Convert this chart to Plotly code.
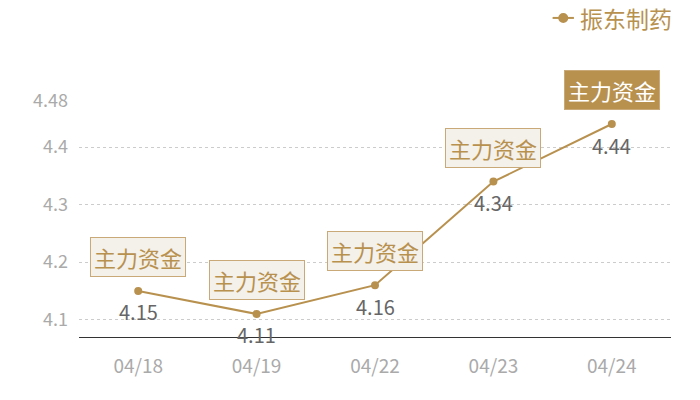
import plotly.graph_objects as go

# chart data
dates = ["04/18", "04/19", "04/22", "04/23", "04/24"]
prices = [4.15, 4.11, 4.16, 4.34, 4.44]
tag_text = "主力资金"
series_name = "振东制药"
y_ticks = [4.1, 4.2, 4.3, 4.4, 4.48]

gold = "#b8914f"
font_family = "Noto Sans CJK SC, Microsoft YaHei, sans-serif"

fig = go.Figure()
fig.add_trace(go.Scatter(
    x=dates, y=prices, name=series_name,
    mode="lines+markers",
    line=dict(color=gold, width=2),
    marker=dict(color=gold, size=8),
    cliponaxis=False, showlegend=False,
))

for i, (d, v) in enumerate(zip(dates, prices)):
    last = i == len(dates) - 1
    # value label under the point
    fig.add_annotation(
        x=d, y=v, xref="x", yref="y", yshift=-21,
        text=f"{v:.2f}", showarrow=False,
        font=dict(color="#666666", size=20, family=font_family),
    )
    # "主力资金" tag above the point, last one highlighted
    fig.add_annotation(
        x=d, y=v, xref="x", yref="y", yshift=34,
        text=tag_text, showarrow=False,
        font=dict(color="white" if last else gold, size=22, family=font_family),
        bgcolor=gold if last else "#f4f0ea",
        bordercolor="#c9a978", borderwidth=1, borderpad=3,
    )

# hand-made legend (top right) so it doesn't push the margins
fig.add_shape(type="line", xref="paper", yref="paper",
              x0=0.800, x1=0.836, y0=1.352, y1=1.352,
              line=dict(color=gold, width=2))
fig.add_shape(type="circle", xref="paper", yref="paper",
              xsizemode="pixel", ysizemode="pixel",
              xanchor=0.818, yanchor=1.352, x0=-5, x1=5, y0=-5, y1=5,
              fillcolor=gold, line=dict(color=gold, width=0))
fig.add_annotation(
    x=0.843, y=1.352, xref="paper", yref="paper",
    xanchor="left", yanchor="middle", showarrow=False,
    text=series_name, font=dict(color=gold, size=23, family=font_family),
)

fig.update_layout(
    width=700, height=400,
    margin=dict(l=79, r=29, t=101, b=63),
    paper_bgcolor="white", plot_bgcolor="white",
    font=dict(family=font_family),
    showlegend=False,
    hovermode=False,
    xaxis=dict(
        type="category", range=[-0.5, 4.5],
        showgrid=False, showline=True, linecolor="#333333", linewidth=1,
        ticks="", tickfont=dict(color="#aaaaaa", size=19),
        ticklabelstandoff=12,
    ),
    yaxis=dict(
        range=[4.07, 4.48], tickvals=y_ticks,
        ticktext=[str(t) for t in y_ticks],
        showgrid=True, gridcolor="#cccccc", griddash="dot", gridwidth=1,
        zeroline=False, showline=False, ticks="",
        tickfont=dict(color="#aaaaaa", size=18),
        ticklabelstandoff=10,
    ),
)

# drop the page's default body margin so the chart sits at the top-left corner
fig.write_html("out.html", config={"displayModeBar": False},
               post_script="document.body.style.margin='0';")
